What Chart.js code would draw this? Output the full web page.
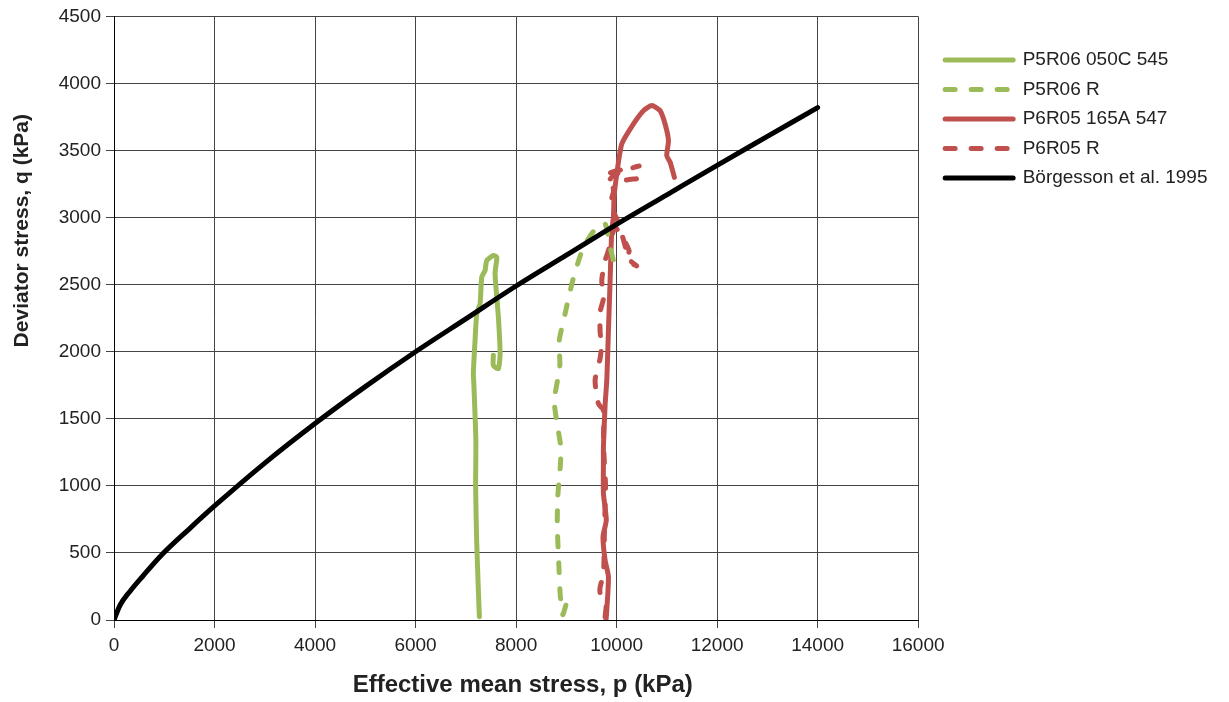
<!DOCTYPE html>
<html>
<head>
<meta charset="utf-8">
<script src="https://cdn.jsdelivr.net/npm/chart.js@4.4.0/dist/chart.umd.min.js"></script>
<style>
  html, body { margin: 0; padding: 0; background: #fff; }
</style>
</head>
<body>
<canvas id="myChart" width="1229" height="702"></canvas>
<script>
Chart.defaults.font.family = "'Liberation Sans', Arial, sans-serif";
Chart.defaults.color = '#222';

// P5R06 050C 545 (green, solid)
const p5Solid_p = [7270, 7250, 7215, 7195, 7200, 7160, 7150, 7184, 7218, 7284, 7317, 7383, 7417, 7548, 7616, 7582, 7648, 7682, 7648, 7548, 7548];
const p5Solid_q = [25, 220, 600, 1000, 1340, 1760, 1840, 2085, 2283, 2358, 2556, 2606, 2680, 2718, 2705, 2581, 2259, 1986, 1874, 1899, 1973];

// P5R06 R (green, dashed)
const p5R_p = [8990, 8930, 8880, 8850, 8820, 8830, 8880, 8890, 8800, 8760, 8870, 8860, 8975, 9128, 9340, 9606, 9771, 9871, 9937];
const p5R_q = [110, 40, 180, 420, 700, 920, 1150, 1290, 1500, 1640, 1890, 2085, 2283, 2532, 2780, 2929, 2954, 2780, 2680];

// P6R05 165A 547 (red, solid)
const p6Solid_p = [9790, 9805, 9838, 9771, 9730, 9795, 9738, 9738, 9738, 9771, 9805, 9838, 9871, 9904, 9937, 9950, 10004, 10103, 10335, 10534, 10700, 10866, 10965, 11032, 10998, 11065, 11131, 11150];
const p6Solid_q = [0, 74, 322, 447, 620, 745, 944, 1191, 1290, 1600, 1787, 2160, 2532, 2904, 3003, 3152, 3326, 3549, 3698, 3797, 3835, 3797, 3698, 3574, 3462, 3413, 3326, 3300];

// P6R05 R (red, dashed)
const p6R_p = [9771, 9790, 9672, 9672, 9740, 9760, 9780, 9740, 9738, 9638, 9572, 9672, 9700, 9672, 9672, 9740, 9705, 9771, 9838, 9904, 9970, 10150, 10250, 10200, 10300, 10400, 10250, 10050, 9880, 9940, 9870, 10150, 10450, 10100, 9870, 10150, 10400];
const p6R_q = [25, 120, 200, 245, 350, 700, 1000, 1300, 1564, 1613, 1787, 1950, 2050, 2147, 2296, 2400, 2532, 2680, 2755, 2854, 2929, 2830, 2750, 2700, 2660, 2640, 2690, 2950, 3100, 3200, 3330, 3360, 3385, 3345, 3290, 3280, 3290];

// Börgesson et al. 1995 (black)
const borg_p = [0, 120, 320, 580, 975, 1500, 2000, 3000, 4000, 5000, 6000, 7000, 8000, 9000, 10000, 11000, 12000, 13000, 14000];
const borg_q = [0, 110, 215, 330, 495, 680, 850, 1170, 1465, 1740, 2000, 2245, 2490, 2720, 2950, 3170, 3390, 3605, 3820];

const green = '#9BBB59';
const red = '#C0504D';

function pts(px, qy) {
    return px.map((v, i) => ({ x: v, y: qy[i] }));
}

function series(label, px, qy, color, dashed, order) {
    return {
        label: label,
        data: pts(px, qy),
        showLine: true,
        borderColor: color,
        backgroundColor: color,
        borderWidth: 5,
        borderDash: dashed ? [10, 16] : [],
        borderCapStyle: 'round',
        borderJoinStyle: 'round',
        pointRadius: 0,
        pointHoverRadius: 0,
        tension: 0.2,
        order: order
    };
}

// move the legend a bit away from the plot area
const legendShift = {
    id: 'legendShift',
    afterLayout(chart) {
        const lg = chart.legend;
        const dx = chart.chartArea.right + 27 - (lg.left + lg.options.labels.padding);
        lg.left += dx;
        lg.right += dx;
    }
};

const borg = series('Börgesson et al. 1995', borg_p, borg_q, '#000', false, 0);
borg.cubicInterpolationMode = 'monotone';

const ctx = document.getElementById('myChart');

new Chart(ctx, {
    type: 'scatter',
    data: {
        datasets: [
            series('P5R06 050C 545', p5Solid_p, p5Solid_q, green, false, 1),
            series('P5R06 R', p5R_p, p5R_q, green, true, 1),
            series('P6R05 165A 547', p6Solid_p, p6Solid_q, red, false, 1),
            series('P6R05 R', p6R_p, p6R_q, red, true, 1),
            borg
        ]
    },
    options: {
        responsive: false,
        animation: false,
        devicePixelRatio: 1,
        layout: {
            padding: { top: 16, right: 28, bottom: 0, left: 0 }
        },
        scales: {
            x: {
                type: 'linear',
                min: 0,
                max: 16000,
                ticks: {
                    stepSize: 2000,
                    padding: 6,
                    font: { size: 19 },
                    callback: v => String(v)
                },
                grid: { color: '#444', lineWidth: 1, tickLength: 8 },
                border: { color: '#000', width: 1 },
                title: {
                    display: true,
                    text: '  Effective mean stress, p (kPa)',
                    font: { size: 24, weight: 'bold' },
                    padding: { top: 0, bottom: 2 }
                },
                afterFit: s => { s.height = 82; }
            },
            y: {
                type: 'linear',
                min: 0,
                max: 4500,
                ticks: {
                    stepSize: 500,
                    padding: 5,
                    font: { size: 19 },
                    callback: v => String(v)
                },
                grid: { color: '#444', lineWidth: 1, tickLength: 8 },
                border: { color: '#000', width: 1 },
                title: {
                    display: true,
                    // leading blanks push the label up, as in the original
                    text: ' '.repeat(30) + 'Deviator stress, q (kPa)',
                    font: { size: 21, weight: 'bold' },
                    padding: { top: 10, bottom: 0 }
                },
                afterFit: s => { s.width = 114; }
            }
        },
        plugins: {
            tooltip: { enabled: false },
            legend: {
                position: 'right',
                align: 'start',
                title: {
                    display: true,
                    text: '',
                    font: { size: 1, lineHeight: 1 },
                    padding: { top: 23, bottom: 0 }
                },
                labels: {
                    usePointStyle: true,
                    pointStyle: 'line',
                    pointStyleWidth: 68,
                    padding: 10.5,
                    font: { size: 19 },
                    color: '#222',
                    sort: (a, b) => a.datasetIndex - b.datasetIndex,
                    generateLabels: chart => {
                        const items = Chart.defaults.plugins.legend.labels.generateLabels(chart);
                        return items.map(it => {
                            const ds = chart.data.datasets[it.datasetIndex];
                            it.lineDash = ds.borderDash;
                            it.lineCap = 'round';
                            it.lineWidth = ds.borderWidth;
                            it.strokeStyle = ds.borderColor;
                            return it;
                        });
                    }
                }
            }
        }
    },
    plugins: [legendShift]
});
</script>
</body>
</html>
